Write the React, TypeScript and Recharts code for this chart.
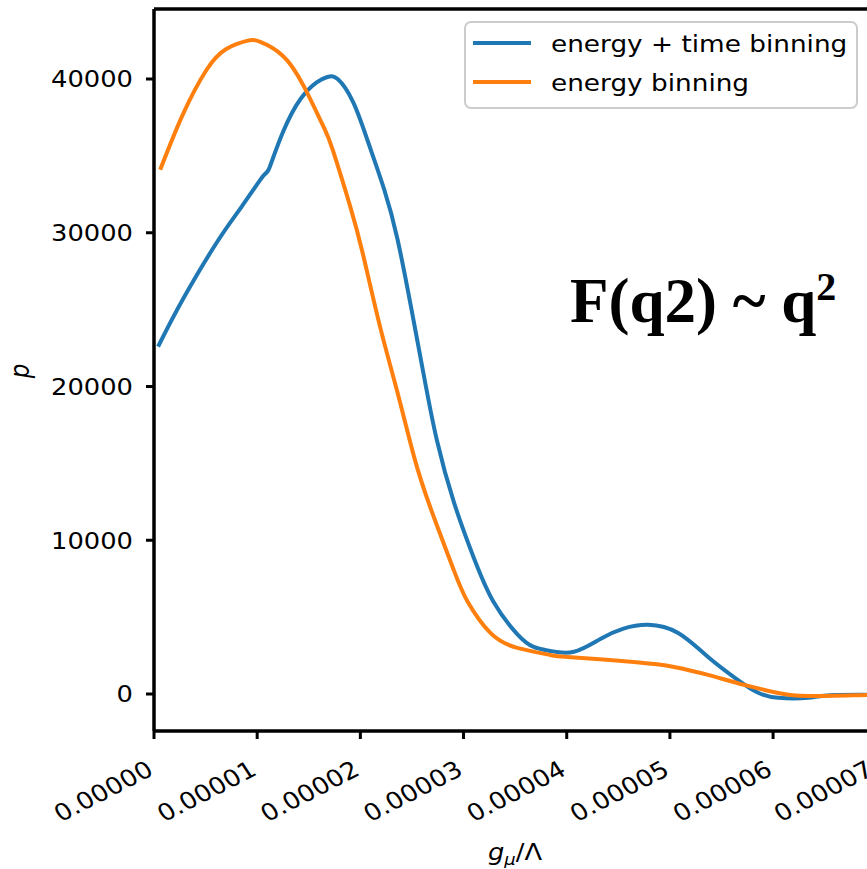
import React from "react";
import { LineChart, Line, XAxis, YAxis, ReferenceLine, Legend } from "recharts";

// energy + time binning
const blueX = [0.04e-5, 0.28e-5, 0.61e-5, 0.85e-5, 1.06e-5, 1.12e-5, 1.25e-5, 1.42e-5, 1.58e-5, 1.68e-5, 1.78e-5, 1.93e-5, 2.07e-5, 2.23e-5, 2.36e-5, 2.49e-5, 2.61e-5, 2.74e-5, 2.91e-5, 3.1e-5, 3.29e-5, 3.52e-5, 3.68e-5, 3.84e-5, 4.07e-5, 4.33e-5, 4.55e-5, 4.79e-5, 5.08e-5, 5.37e-5, 5.66e-5, 5.85e-5, 6.05e-5, 6.34e-5, 6.59e-5, 7.25e-5];
const blueY = [22600, 25670, 29380, 31700, 33700, 34250, 36550, 38700, 39800, 40130, 40000, 38500, 36000, 32840, 29580, 25210, 20910, 16550, 12400, 8850, 6000, 3900, 3060, 2800, 2750, 3600, 4250, 4500, 3970, 2410, 910, 100, -250, -250, -60, -60];

// energy binning
const orangeX = [0.06e-5, 0.28e-5, 0.51e-5, 0.7e-5, 0.9e-5, 1.03e-5, 1.25e-5, 1.45e-5, 1.64e-5, 1.73e-5, 1.9e-5, 2.03e-5, 2.19e-5, 2.36e-5, 2.52e-5, 2.68e-5, 2.9e-5, 3.04e-5, 3.26e-5, 3.52e-5, 3.84e-5, 4.01e-5, 4.65e-5, 5.04e-5, 5.37e-5, 5.72e-5, 6.05e-5, 6.34e-5, 6.92e-5, 7.25e-5];
const orangeY = [34100, 37700, 40600, 41950, 42480, 42410, 41500, 39550, 36940, 35440, 31750, 28470, 23910, 19610, 15440, 12100, 8150, 6000, 3970, 3000, 2540, 2410, 2080, 1760, 1240, 590, 65, -130, -65, -50];

const xTicks = [0, 1e-5, 2e-5, 3e-5, 4e-5, 5e-5, 6e-5, 7e-5];
const yTicks = [0, 10000, 20000, 30000, 40000];
const seriesNames = ["energy + time binning", "energy binning"];
const seriesColors = ["#1f77b4", "#ff7f0e"];

const blueData = blueX.map((x, i) => ({ x, y: blueY[i] }));
const orangeData = orangeX.map((x, i) => ({ x, y: orangeY[i] }));

const FONT = "DejaVu Sans";
const SX = 1.12;

const XTick = (props: any) => {
  const { x, y, payload } = props;
  const ax = x + 1;
  const ay = y + 33;
  return (
    <text
      transform={`translate(${ax},${ay}) scale(${SX},1) rotate(-30)`}
      textAnchor="end"
      fontFamily={FONT}
      fontSize={23.5}
      fill="#000"
    >
      {Number(payload.value).toFixed(5)}
    </text>
  );
};

const YTick = (props: any) => {
  const { x, y, payload } = props;
  return (
    <text
      transform={`translate(${x - 11},${y + 8.4}) scale(${SX},1)`}
      textAnchor="end"
      fontFamily={FONT}
      fontSize={23}
      fill="#000"
    >
      {payload.value}
    </text>
  );
};

const LegendBox = () => (
  <svg width={400} height={92} style={{ display: "block" }}>
    <rect x={1} y={1} width={392} height={86} rx={6} ry={6} fill="#fff" fillOpacity={0.8} stroke="#cccccc" strokeWidth={2} />
    {seriesNames.map((n, i) => (
      <g key={n}>
        <line x1={9} x2={67} y1={22 + i * 39} y2={22 + i * 39} stroke={seriesColors[i]} strokeWidth={4} />
        <text transform={`translate(87,${30.5 + i * 39}) scale(${SX},1)`} fontFamily={FONT} fontSize={23.5} fill="#000">
          {n}
        </text>
      </g>
    ))}
  </svg>
);

export default function App() {
  return (
    <div style={{ position: "absolute", left: 0, top: 0, width: 867, height: 869, overflow: "hidden", background: "#fff" }}>
      <LineChart width={900} height={869} margin={{ top: 9, right: 0, left: 0, bottom: 0 }}>
        <XAxis
          type="number"
          dataKey="x"
          domain={[0, 7.23e-5]}
          ticks={xTicks}
          allowDataOverflow
          height={138}
          tickSize={8}
          tick={<XTick />}
          axisLine={{ stroke: "#000", strokeWidth: 3.5 }}
          tickLine={{ stroke: "#000", strokeWidth: 3 }}
        />
        <YAxis
          type="number"
          domain={[-2406, 44553]}
          ticks={yTicks}
          allowDataOverflow
          width={154}
          tickSize={8}
          tick={<YTick />}
          axisLine={{ stroke: "#000", strokeWidth: 3.5 }}
          tickLine={{ stroke: "#000", strokeWidth: 3 }}
        />
        <ReferenceLine y={44553} stroke="#000" strokeWidth={3.5} />
        <Line data={blueData} dataKey="y" type="natural" stroke={seriesColors[0]} strokeWidth={4} dot={false} isAnimationActive={false} />
        <Line data={orangeData} dataKey="y" type="natural" stroke={seriesColors[1]} strokeWidth={4} dot={false} isAnimationActive={false} />
        <Legend
          layout="vertical"
          align="center"
          verticalAlign="middle"
          content={<LegendBox />}
          wrapperStyle={{ position: "absolute", left: 464, top: 21, width: 400 }}
        />
      </LineChart>
      <svg width={867} height={869} style={{ position: "absolute", left: 0, top: 0, pointerEvents: "none" }}>
        <text transform={`translate(29,371) scale(${SX},1) rotate(-90)`} textAnchor="middle" fontFamily={FONT} fontStyle="italic" fontSize={23} fill="#000">
          p
        </text>
        <text transform={`translate(515,860) scale(${SX},1)`} textAnchor="middle" fontFamily={FONT} fontSize={23} fill="#000">
          <tspan fontStyle="italic">g</tspan>
          <tspan fontStyle="italic" fontSize={16} dy={5}>μ</tspan>
          <tspan dy={-5}>/Λ</tspan>
        </text>
        <text x={570} y={322} fontFamily="Liberation Serif" fontWeight="bold" fontSize={63} fill="#000">
          F(q2) ~ q<tspan fontSize={40} dy={-22}>2</tspan>
        </text>
      </svg>
    </div>
  );
}
